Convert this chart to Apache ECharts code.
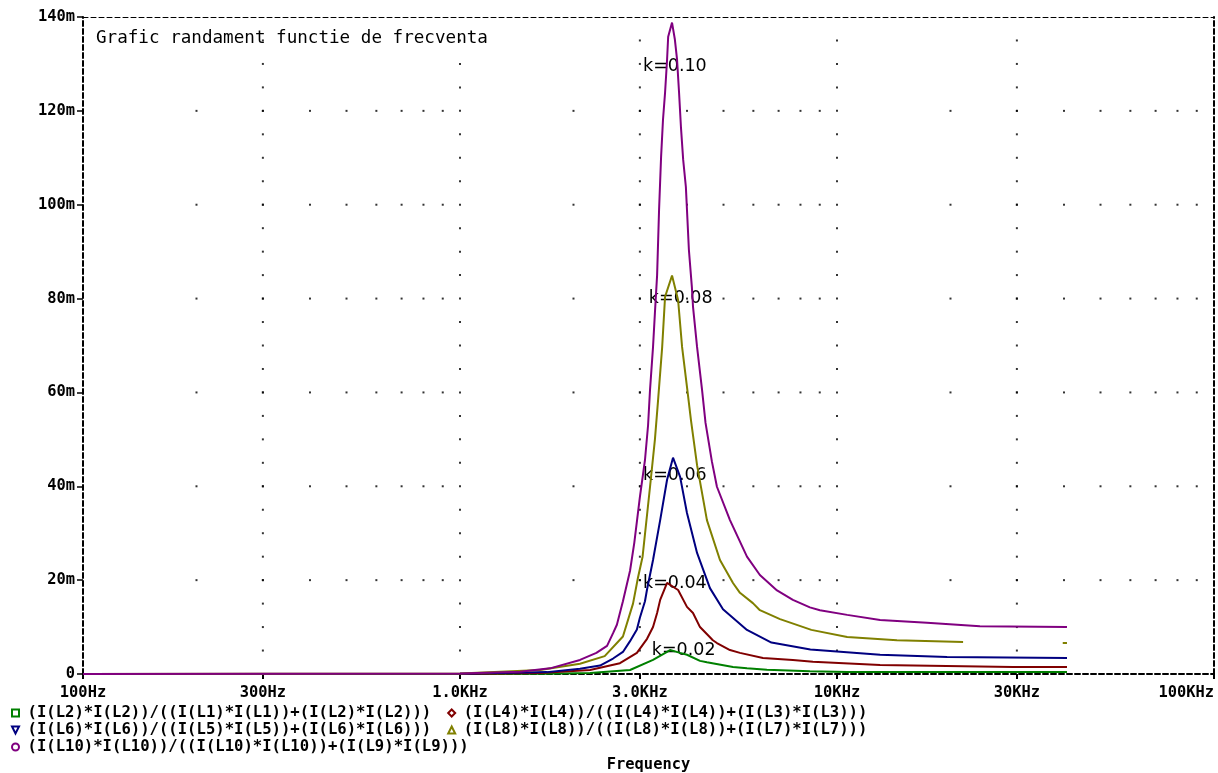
<!DOCTYPE html>
<html>
<head>
<meta charset="utf-8">
<title>Grafic randament functie de frecventa</title>
<script src="https://cdn.jsdelivr.net/npm/echarts@6/dist/echarts.min.js"></script>
<style>
  html, body { margin: 0; padding: 0; background: #fff; }
  #chart { width: 1218px; height: 773px; }
</style>
</head>
<body>
<div id="chart"></div>
<script>
// x axis ticks (Hz) and their labels
const tickFreqs = [100, 300, 1000, 3000, 10000, 30000, 100000];
const tickLabels = ['100Hz', '300Hz', '1.0KHz', '3.0KHz', '10KHz', '30KHz', '100KHz'];
// y axis ticks, in m (1e-3)
const yTicks = [0, 20, 40, 60, 80, 100, 120, 140];
// dotted grid
const minorFreqs = [200, 300, 400, 500, 600, 700, 800, 900,
  2000, 3000, 4000, 5000, 6000, 7000, 8000, 9000,
  20000, 30000, 40000, 50000, 60000, 70000, 80000, 90000];
const majorGridFreqs = [300, 1000, 3000, 10000, 30000];

// curves: frequency in Hz, value in m
const k02Freq = [100, 1000, 1700, 2213, 2825, 3251, 3542, 3606, 3836, 4000, 4331, 4518, 5298, 5770, 6516, 8475, 10641, 40740];
const k02Val = [0, 0, 0.05, 0.2, 0.85, 3.0, 4.7, 5.1, 4.5, 4.1, 2.8, 2.5, 1.5, 1.2, 0.9, 0.6, 0.45, 0.4];

const k04Freq = [100, 1000, 1630, 2213, 2656, 2946, 3134, 3251, 3333, 3396, 3542, 3566, 3789, 4000, 4150, 4331, 4685, 4803, 5201, 5528, 6362, 7638, 8630, 13010, 29290, 40740];
const k04Val = [0, 0, 0.2, 0.85, 2.3, 4.5, 7.5, 10, 13, 15.8, 19.4, 19.8, 17.9, 14.3, 13, 10, 7.2, 6.6, 5.1, 4.5, 3.4, 3.0, 2.6, 1.9, 1.5, 1.5];

const k06Freq = [100, 1000, 1700, 2081, 2352, 2547, 2705, 2825, 2946, 3000, 3095, 3134, 3251, 3396, 3542, 3673, 3836, 4000, 4254, 4602, 4984, 5770, 6700, 8500, 13010, 19590, 40740];
const k06Val = [0, 0.05, 0.4, 1.1, 1.8, 3.3, 4.7, 7.0, 9.5, 12, 15.5, 18, 24.3, 32.8, 41.4, 46.1, 42, 34.3, 25.8, 18.3, 13.8, 9.4, 6.7, 5.2, 4.1, 3.6, 3.4];

const k08Freq = [100, 1000, 1630, 2081, 2420, 2705, 2877, 2965, 3050, 3192, 3289, 3350, 3438, 3499, 3651, 3789, 3882, 4000, 4100, 4254, 4518, 4893, 5298, 5528, 5983, 6244, 7061, 8550, 10641, 14420, 21600, 30000, 39700, 40740];
const k08Val = [0, 0.1, 0.85, 2.2, 3.8, 8, 15, 20.5, 25, 39.9, 50, 58, 69.7, 80.4, 84.9, 79.7, 69.7, 61.2, 54, 44.5, 32.8, 24.3, 19.4, 17.3, 15.1, 13.6, 11.7, 9.4, 7.9, 7.2, 6.8, null, 6.6, 6.6];

const k10Freq = [100, 1000, 1443, 1733, 2081, 2300, 2455, 2547, 2607, 2705, 2825, 2900, 3000, 3095, 3154, 3192, 3251, 3289, 3333, 3373, 3415, 3455, 3499, 3542, 3566, 3651, 3715, 3765, 3811, 3855, 3908, 3973, 4000, 4047, 4121, 4150, 4254, 4385, 4480, 4657, 4803, 5201, 5770, 6244, 6933, 7638, 8475, 9010, 10641, 13010, 17330, 23940, 40740];
const k10Val = [0, 0.1, 0.5, 1.2, 3.0, 4.5, 6, 8.7, 10.5, 15.5, 22, 28, 37.7, 45.6, 53, 60.6, 69.7, 77, 85, 98.9, 110.2, 118.1, 123.9, 130.9, 135.8, 138.8, 135.2, 130.9, 123.9, 116.6, 109.6, 103.8, 98.9, 90.4, 82.5, 78.3, 69.7, 60.6, 53.5, 45.3, 39.9, 32.8, 25, 21.1, 17.8, 15.8, 14.2, 13.6, 12.6, 11.5, 10.9, 10.2, 10.0];

// "k=..." annotations near the peaks
const kLabels = ['k=0.02', 'k=0.04', 'k=0.06', 'k=0.08', 'k=0.10'];
const kLabelFreq = [3920, 3715, 3715, 3850, 3715];
const kLabelVal = [5.1, 19.2, 42.4, 80, 129.4];

const seriesNames = [
  '(I(L2)*I(L2))/((I(L1)*I(L1))+(I(L2)*I(L2)))',
  '(I(L4)*I(L4))/((I(L4)*I(L4))+(I(L3)*I(L3)))',
  '(I(L6)*I(L6))/((I(L5)*I(L5))+(I(L6)*I(L6)))',
  '(I(L8)*I(L8))/((I(L8)*I(L8))+(I(L7)*I(L7)))',
  '(I(L10)*I(L10))/((I(L10)*I(L10))+(I(L9)*I(L9)))'
];
const colors = ['#008000', '#800000', '#000080', '#808000', '#800080'];
const icons = [
  'path://M0,0L10,0L10,10L0,10Z',
  'path://M5,0L10,5L5,10L0,5Z',
  'path://M0,0L10,0L5,10Z',
  'path://M5,0L10,10L0,10Z',
  'circle'
];

const lg = f => Math.log10(f);
const toData = (fr, vals) => fr.map((f, i) => [lg(f), vals[i] == null ? '-' : vals[i]]);

const monoBold = { fontFamily: 'DejaVu Sans Mono', fontWeight: 'bold', fontSize: 15.4, color: '#000' };
const dashed = { color: '#000', width: 2, type: [5, 3] };

// grid dots: rows on the minor frequencies, columns on the major ones
const dots = [];
yTicks.slice(1, -1).forEach(y => minorFreqs.forEach(f => dots.push([lg(f), y])));
majorGridFreqs.forEach(f => {
  for (let i = 0; i < yTicks.length - 1; i++) {
    for (let s = 1; s <= 4; s++) {
      const y = yTicks[i] + (yTicks[i + 1] - yTicks[i]) * s / 4;
      if (y < yTicks[yTicks.length - 1]) dots.push([lg(f), y]);
    }
  }
});

function labelFor(v) {
  let best = 0;
  tickFreqs.forEach((f, i) => {
    if (Math.abs(lg(f) - v) < Math.abs(lg(tickFreqs[best]) - v)) best = i;
  });
  return tickLabels[best];
}

function legendRow(top, idx) {
  return {
    top: top, left: 6,
    itemWidth: 14, itemHeight: 7, itemGap: 16,
    selectedMode: false,
    textStyle: Object.assign({}, monoBold, { fontSize: 15.6 }),
    data: idx.map(i => ({
      name: seriesNames[i],
      icon: icons[i],
      itemStyle: { color: '#fff', borderColor: colors[i], borderWidth: 2 }
    }))
  };
}

const chart = echarts.init(document.getElementById('chart'));
const curves = [
  [k02Freq, k02Val], [k04Freq, k04Val], [k06Freq, k06Val], [k08Freq, k08Val], [k10Freq, k10Val]
];

const option = {
  animation: false,
  backgroundColor: '#fff',
  title: {
    text: 'Grafic randament functie de frecventa',
    left: 96, top: 29, padding: 0,
    textStyle: { fontFamily: 'DejaVu Sans Mono', fontSize: 17.6, fontWeight: 'normal', color: '#000' }
  },
  grid: { left: 83, right: 4, top: 17, bottom: 99, outerBoundsMode: 'none' },
  legend: [legendRow(700, [0, 1]), legendRow(717, [2, 3]), legendRow(734, [4])],
  xAxis: [{
    type: 'value', min: 2, max: 5,
    name: 'Frequency', nameLocation: 'middle', nameGap: 83,
    nameTextStyle: monoBold,
    axisLine: { onZero: false, lineStyle: dashed },
    axisTick: { customValues: tickFreqs.map(lg), length: 5, lineStyle: { color: '#000', width: 2 } },
    axisLabel: Object.assign({ customValues: tickFreqs.map(lg), formatter: labelFor, margin: 11, alignMaxLabel: 'right' }, monoBold),
    splitLine: { show: false }
  }, {
    type: 'value', min: 2, max: 5, position: 'top',
    axisLine: { onZero: false, lineStyle: { color: '#000', width: 1, type: [5, 3] } },
    axisTick: { show: false }, axisLabel: { show: false }, splitLine: { show: false }
  }],
  yAxis: [{
    type: 'value', min: 0, max: 140, interval: 20,
    axisLine: { show: true, onZero: false, lineStyle: dashed },
    axisTick: { show: true, length: 6, lineStyle: { color: '#000', width: 1.5 } },
    axisLabel: Object.assign({ margin: 8, formatter: v => v === 0 ? '0' : v + 'm' }, monoBold),
    splitLine: { show: false }
  }, {
    type: 'value', min: 0, max: 140, position: 'right',
    axisLine: { show: true, onZero: false, lineStyle: dashed },
    axisTick: { show: false }, axisLabel: { show: false }, splitLine: { show: false }
  }],
  series: [{
    type: 'scatter', silent: true, data: dots,
    symbol: 'rect', symbolSize: 2, itemStyle: { color: '#000' }
  }, {
    type: 'scatter', silent: true,
    symbolSize: 1, itemStyle: { color: 'rgba(0,0,0,0)' },
    data: kLabels.map((t, i) => ({ name: t, value: [lg(kLabelFreq[i]), kLabelVal[i]] })),
    label: {
      show: true, position: 'inside', formatter: '{b}',
      fontFamily: 'DejaVu Sans', fontSize: 17.5, color: '#000',
      textBorderWidth: 0, opacity: 1
    }
  }].concat(curves.map((c, i) => ({
    name: seriesNames[i],
    type: 'line',
    data: toData(c[0], c[1]),
    showSymbol: false, connectNulls: false,
    color: colors[i],
    itemStyle: { color: colors[i] },
    lineStyle: { color: colors[i], width: 2 }
  })))
};

chart.setOption(option);
</script>
</body>
</html>
